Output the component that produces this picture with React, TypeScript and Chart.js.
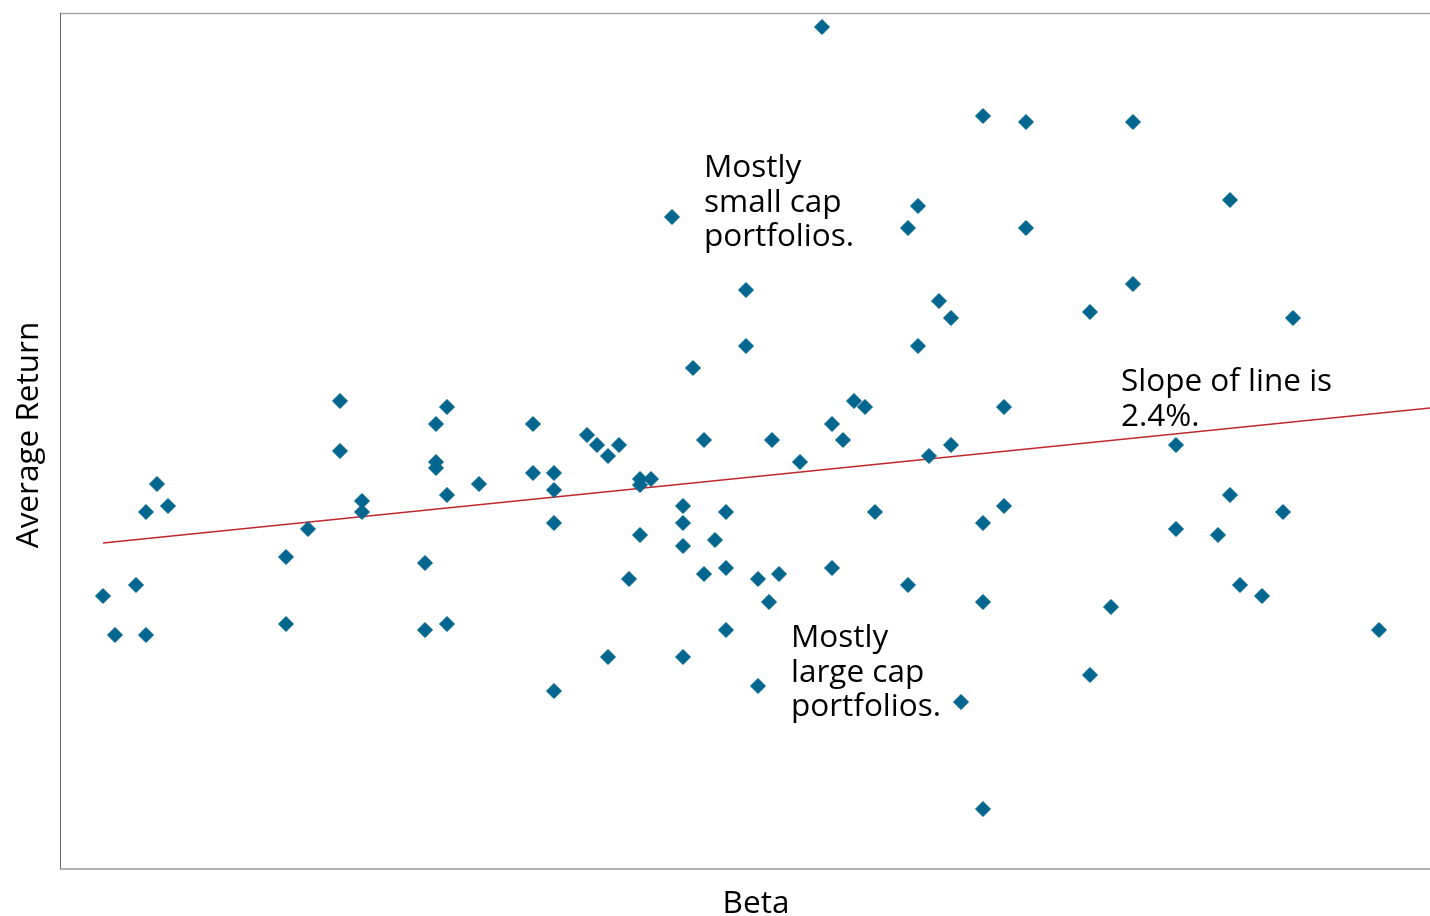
import React, { useEffect, useRef } from "react";
import { Chart, registerables } from "chart.js";

Chart.register(...registerables);

// Beta of each portfolio
const betas: number[] = [
  1.162, 1.323, 1.366, 1.473, 1.258, 1.57, 1.012, 1.248, 1.366, 1.086,
  1.473, 1.279, 1.291, 1.43, 1.633, 1.086, 1.258, 1.033, 0.68, 0.787,
  0.776, 0.873, 1.194, 1.205, 1.344, 1.172, 0.927, 0.937, 0.959, 0.948,
  1.044, 1.112, 1.183, 1.291, 1.269, 1.516, 0.68, 0.776, 0.776, 0.873,
  0.894, 1.14, 0.497, 0.819, 0.98, 0.991, 0.98, 0.894, 0.787, 1.57,
  0.486, 0.508, 0.702, 0.702, 1.023, 1.066, 1.215, 1.344, 1.623, 0.648,
  0.894, 1.023, 1.323, 1.516, 0.98, 1.055, 1.558, 1.023, 0.626, 0.765,
  1.066, 1.172, 1.044, 1.119, 1.098, 0.969, 0.476, 1.248, 1.58, 0.443,
  1.602, 1.109, 1.323, 1.451, 0.626, 0.787, 0.765, 1.066, 1.719, 0.455,
  0.486, 0.948, 1.023, 1.43, 1.098, 0.894, 1.301, 1.323,
];

// Average return of each portfolio (%)
const returns: number[] = [
  16.84, 15.06, 14.94, 14.94, 13.26, 13.38, 13.04, 12.82, 12.82, 11.58,
  11.7, 11.36, 11.02, 11.14, 11.02, 10.46, 10.46, 10.02, 9.36, 9.24,
  8.9, 8.9, 9.36, 9.24, 9.24, 8.9, 8.68, 8.48, 8.48, 8.26,
  8.58, 8.58, 8.58, 8.48, 8.26, 8.48, 8.36, 8.14, 8.02, 7.92,
  7.92, 8.14, 7.7, 7.7, 7.8, 7.8, 7.68, 7.58, 7.48, 7.48,
  7.14, 7.26, 7.36, 7.14, 7.26, 7.14, 7.14, 7.26, 7.14, 6.8,
  6.92, 6.92, 6.92, 6.8, 6.68, 6.58, 6.68, 6.46, 6.24, 6.12,
  6.02, 6.02, 5.9, 5.9, 5.8, 5.8, 5.68, 5.68, 5.68, 5.46,
  5.46, 5.34, 5.34, 5.24, 4.9, 4.9, 4.78, 4.78, 4.78, 4.68,
  4.68, 4.24, 4.24, 3.88, 3.66, 3.56, 3.34, 1.2,
];

// Fitted line end points
const lineBetas: number[] = [0.443, 1.77];
const lineReturns: number[] = [6.52, 9.22];

// Axis ranges
const xRange: number[] = [0.4, 1.77];
const yRange: number[] = [0, 17.12];

const xTitle = "Beta";
const yTitle = "Average Return";

const notes: { lines: string[]; x: number; y: number }[] = [
  { lines: ["Mostly", "small cap", "portfolios."], x: 1.044, y: 13.84 },
  { lines: ["Mostly", "large cap", "portfolios."], x: 1.131, y: 4.44 },
  { lines: ["Slope of line is", "2.4%."], x: 1.461, y: 9.56 },
];

const FONT = '31.5px "Open Sans", sans-serif';

const decorPlugin = {
  id: "decor",
  beforeDatasetsDraw(chart: any) {
    const { ctx, chartArea: a, width } = chart;
    ctx.save();
    ctx.lineWidth = 1.5;
    ctx.strokeStyle = "#a6a6a6";
    ctx.beginPath();
    ctx.moveTo(a.left, a.top + 0.5);
    ctx.lineTo(width, a.top + 0.5);
    ctx.stroke();
    ctx.strokeStyle = "#9a9a9a";
    ctx.beginPath();
    ctx.moveTo(a.left, a.bottom);
    ctx.lineTo(width, a.bottom);
    ctx.stroke();
    ctx.lineWidth = 1;
    ctx.strokeStyle = "#666666";
    ctx.beginPath();
    ctx.moveTo(a.left + 0.5, a.top);
    ctx.lineTo(a.left + 0.5, a.bottom);
    ctx.stroke();
    ctx.restore();
  },
  afterDraw(chart: any) {
    const { ctx, chartArea: a, scales } = chart;
    ctx.save();
    ctx.fillStyle = "#000000";
    ctx.font = FONT;
    ctx.textAlign = "left";
    ctx.textBaseline = "alphabetic";
    for (const n of notes) {
      const px = scales.x.getPixelForValue(n.x);
      const py = scales.y.getPixelForValue(n.y);
      n.lines.forEach((l, i) => ctx.fillText(l, px, py + i * 34.5));
    }
    ctx.textAlign = "center";
    ctx.fillText(xTitle, (a.left + a.right) / 2 + 11, a.bottom + 44);
    ctx.translate(38, (a.top + a.bottom) / 2 - 6);
    ctx.rotate(-Math.PI / 2);
    ctx.fillText(yTitle, 0, 0);
    ctx.restore();
  },
};

export default function App() {
  const ref = useRef<HTMLCanvasElement | null>(null);
  useEffect(() => {
    if (!ref.current) return;
    const chart = new Chart(ref.current, {
      type: "scatter",
      data: {
        datasets: [
          {
            type: "scatter",
            data: betas.map((b, i) => ({ x: b, y: returns[i] })),
            pointStyle: "rectRot",
            pointRadius: 7.5,
            pointBackgroundColor: "#03668e",
            pointBorderColor: "#03668e",
            pointBorderWidth: 1,
            order: 0,
          } as any,
          {
            type: "line",
            data: lineBetas.map((b, i) => ({ x: b, y: lineReturns[i] })),
            borderColor: "#c0272d",
            borderWidth: 1.5,
            pointRadius: 0,
            fill: false,
            order: 1,
          } as any,
        ],
      },
      options: {
        animation: false,
        responsive: false,
        devicePixelRatio: 1,
        layout: { autoPadding: false, padding: { left: 60, top: 13, right: 0, bottom: 47 } },
        plugins: { legend: { display: false }, tooltip: { enabled: false } },
        scales: {
          x: { type: "linear", min: xRange[0], max: xRange[1], display: false },
          y: { type: "linear", min: yRange[0], max: yRange[1], display: false },
        },
      },
      plugins: [decorPlugin],
    });
    return () => chart.destroy();
  }, []);
  return (
    <div style={{ position: "absolute", left: 0, top: 0, width: 1430, height: 916, background: "#fff" }}>
      <canvas ref={ref} width={1430} height={916} style={{ display: "block" }} />
    </div>
  );
}
